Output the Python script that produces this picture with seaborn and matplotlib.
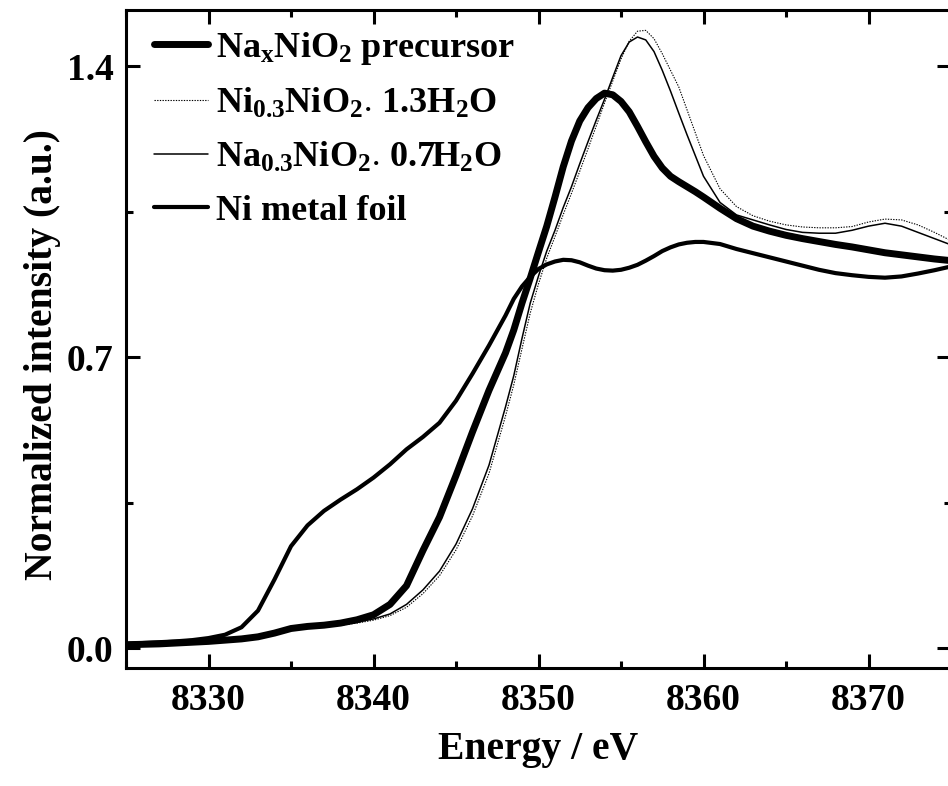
import numpy as np
import pandas as pd
import matplotlib
matplotlib.use("Agg")
import matplotlib.pyplot as plt
import seaborn as sns

# =========================
# Data
# =========================
energy = [8325, 8326, 8327, 8328, 8329, 8330, 8331, 8332, 8333, 8334,
          8335, 8336, 8337, 8338, 8339, 8340, 8341, 8342, 8343, 8344,
          8345, 8346, 8347, 8348,
          8348.5, 8349, 8349.5, 8350, 8350.5, 8351, 8351.5, 8352, 8352.5, 8353,
          8353.5, 8354, 8354.5, 8355, 8355.5, 8356, 8356.5, 8357, 8357.5, 8358,
          8358.5, 8359, 8359.5, 8360,
          8361, 8362, 8363, 8364, 8365, 8366, 8367, 8368, 8369, 8370,
          8371, 8372, 8373, 8374, 8375]

precursor = [0.008, 0.009, 0.010, 0.012, 0.014, 0.016, 0.019, 0.022, 0.027, 0.036,
             0.047, 0.052, 0.055, 0.060, 0.068, 0.080, 0.105, 0.150, 0.235, 0.315,
             0.415, 0.520, 0.620, 0.710,
             0.765, 0.830, 0.890, 0.953, 1.015, 1.085, 1.158, 1.220, 1.268, 1.300,
             1.322, 1.335, 1.331, 1.315, 1.290, 1.255, 1.218, 1.183, 1.155, 1.135,
             1.122, 1.110, 1.098, 1.085,
             1.058, 1.033, 1.015, 1.003, 0.993, 0.985, 0.978, 0.971, 0.965, 0.958,
             0.951, 0.946, 0.941, 0.936, 0.932]

ni03_hydrate = [0.008, 0.009, 0.010, 0.012, 0.014, 0.016, 0.019, 0.022, 0.027, 0.034,
                0.044, 0.049, 0.052, 0.055, 0.060, 0.067, 0.078, 0.098, 0.131, 0.174,
                0.236, 0.318, 0.420, 0.558,
                0.633, 0.720, 0.806, 0.876, 0.938, 0.990, 1.043, 1.094, 1.147, 1.201,
                1.256, 1.311, 1.364, 1.417, 1.460, 1.484, 1.486, 1.466, 1.430, 1.390,
                1.350, 1.295, 1.240, 1.185,
                1.105, 1.062, 1.040, 1.027, 1.018, 1.013, 1.011, 1.011, 1.014, 1.025,
                1.032, 1.030, 1.018, 1.000, 0.980]

na03_hydrate = [0.008, 0.009, 0.010, 0.012, 0.014, 0.016, 0.019, 0.022, 0.027, 0.035,
                0.045, 0.050, 0.053, 0.056, 0.062, 0.070, 0.082, 0.105, 0.140, 0.185,
                0.250, 0.335, 0.440, 0.580,
                0.655, 0.745, 0.830, 0.895, 0.955, 1.005, 1.060, 1.110, 1.165, 1.218,
                1.270, 1.320, 1.373, 1.425, 1.458, 1.470, 1.463, 1.435, 1.390, 1.340,
                1.287, 1.235, 1.185, 1.135,
                1.072, 1.042, 1.030, 1.018, 1.007, 1.000, 0.998, 0.998, 1.005, 1.015,
                1.022, 1.015, 1.000, 0.985, 0.970]

ni_foil = [0.010, 0.012, 0.014, 0.016, 0.019, 0.024, 0.032, 0.050, 0.090, 0.165,
           0.245, 0.295, 0.330, 0.357, 0.382, 0.410, 0.442, 0.478, 0.508, 0.542,
           0.595, 0.660, 0.728, 0.800,
           0.840, 0.870, 0.893, 0.912, 0.923, 0.930, 0.934, 0.933, 0.928, 0.920,
           0.913, 0.909, 0.908, 0.910, 0.915, 0.922, 0.932, 0.943, 0.955, 0.964,
           0.971, 0.975, 0.977, 0.977,
           0.972, 0.960, 0.950, 0.940, 0.930, 0.920, 0.910, 0.902, 0.897, 0.893,
           0.891, 0.894, 0.901, 0.909, 0.918]

labels = [r"Na$_{x}$NiO$_{2}$ precursor",
          r"Ni$_{0.3}$NiO$_{2}$$_{·}$ 1.3H$_{2}$O",
          r"Na$_{0.3}$NiO$_{2}$$_{·}$ 0.7H$_{2}$O",
          "Ni metal foil"]

# =========================
# Style
# =========================
sns.set_theme(style="ticks")
plt.rcParams["font.family"] = ["Liberation Serif", "DejaVu Serif"]
plt.rcParams["font.weight"] = "bold"
plt.rcParams["mathtext.fontset"] = "custom"
plt.rcParams["mathtext.rm"] = "Liberation Serif:bold"
plt.rcParams["mathtext.it"] = "Liberation Serif:bold"
plt.rcParams["mathtext.bf"] = "Liberation Serif:bold"
for key in ["text.color", "axes.labelcolor", "xtick.color", "ytick.color",
            "axes.edgecolor"]:
    plt.rcParams[key] = "black"

df = pd.DataFrame({
    "energy": energy,
    "precursor": precursor,
    "ni03": ni03_hydrate,
    "na03": na03_hydrate,
    "foil": ni_foil,
})

fig = plt.figure(figsize=(9.48, 7.86), dpi=100)
ax = fig.add_axes([126 / 948, 118 / 786, 825 / 948, 658 / 786])

sns.lineplot(data=df, x="energy", y="precursor", ax=ax, color="black",
             linewidth=5.0, label=labels[0])
sns.lineplot(data=df, x="energy", y="ni03", ax=ax, color="black",
             linewidth=0.8, linestyle=(0, (1.2, 1.2)), label=labels[1])
sns.lineplot(data=df, x="energy", y="na03", ax=ax, color="black",
             linewidth=1.1, label=labels[2])
sns.lineplot(data=df, x="energy", y="foil", ax=ax, color="black",
             linewidth=3.0, label=labels[3])

ax.set_xlim(8325, 8375)
ax.set_ylim(-0.048, 1.535)
ax.set_xticks([8330, 8340, 8350, 8360, 8370])
ax.set_xticks(np.arange(8325, 8376, 5), minor=True)
ax.set_yticks([0.0, 0.7, 1.4])
ax.set_yticks([0.35, 1.05], minor=True)
ax.yaxis.set_major_formatter(matplotlib.ticker.FormatStrFormatter("%.1f"))

for side in ["left", "right", "top", "bottom"]:
    ax.spines[side].set_visible(True)
    ax.spines[side].set_linewidth(2.2)
    ax.spines[side].set_color("black")

ax.tick_params(which="both", direction="in", top=True, right=True,
               width=2.2, color="black", labelcolor="black", labelsize=27)
ax.tick_params(which="major", length=10)
ax.tick_params(which="minor", length=5)
ax.tick_params(axis="x", pad=11)
ax.tick_params(axis="y", pad=9)

ax.set_xlabel("Energy / eV", fontsize=28.5, fontweight="bold", labelpad=9)
ax.set_ylabel("Normalized intensity (a.u.)", fontsize=28.5, fontweight="bold",
              labelpad=4)
ax.yaxis.label.set_y(0.477)

ax.legend(loc="upper left", bbox_to_anchor=(0.01, 1.0), frameon=False,
          fontsize=26, handlelength=1.5, handletextpad=0.2,
          labelspacing=0.55, borderaxespad=0.25, borderpad=0.3)

fig.savefig("out.png", dpi=100)
